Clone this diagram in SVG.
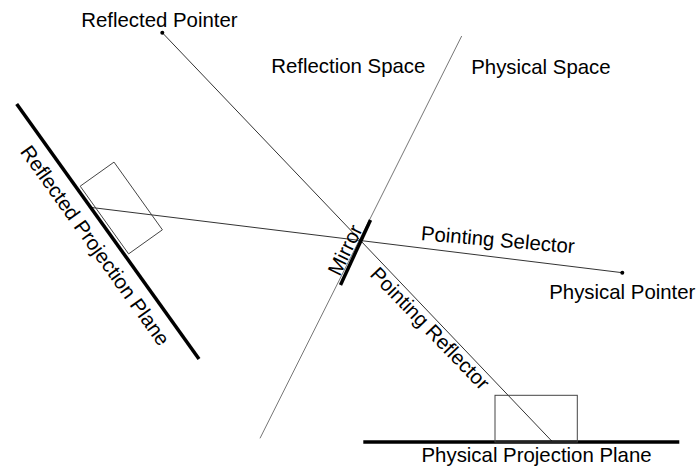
<svg xmlns="http://www.w3.org/2000/svg" width="696" height="468" viewBox="0 0 696 468">
<style>
  .lbl { font-family: "Liberation Sans", Arial, sans-serif; font-size: 20.4px; fill: #000; }
  .thin { stroke: #333; stroke-width: 1; fill: none; }
  .div { stroke: #666; stroke-width: 0.9; fill: none; }
  .thick { stroke: #000; stroke-width: 3.5; fill: none; }
  .rect { stroke: #444; stroke-width: 1; fill: none; }
  .dot { fill: #000; }
</style>
<rect width="696" height="468" fill="#fff"/>
<g id="connectors">
  <line class="div" x1="461.7" y1="36" x2="260" y2="438.3"/>
  <line class="thin" x1="162.3" y1="32.7" x2="551.7" y2="441"/>
  <line class="thin" x1="91.7" y1="207.5" x2="622.3" y2="272.7"/>
</g>
<g id="reflected-projection-plane">
  <line class="thick" x1="16.7" y1="104" x2="199" y2="359"/>
  <polygon class="rect" points="80.2,186.2 128.6,253.9 162.4,229.8 114,162.1"/>
  <text class="lbl" text-anchor="middle" transform="translate(89.5,249.5) rotate(54.4)">Reflected Projection Plane</text>
</g>
<g id="physical-projection-plane">
  <line class="thick" x1="363.3" y1="442" x2="679.3" y2="442"/>
  <rect class="rect" x="495" y="395.3" width="82.3" height="46.7"/>
  <text class="lbl" x="421.5" y="461.7">Physical Projection Plane</text>
</g>
<g id="mirror">
  <line class="thick" x1="370.5" y1="220" x2="340.5" y2="285"/>
  <text class="lbl" text-anchor="middle" transform="translate(351.3,253) rotate(-64)">Mirror</text>
</g>
<g id="reflected-pointer">
  <circle class="dot" cx="162.3" cy="32.7" r="2"/>
  <text class="lbl" x="81.2" y="27">Reflected Pointer</text>
</g>
<g id="physical-pointer">
  <circle class="dot" cx="622.3" cy="272.7" r="2"/>
  <text class="lbl" x="549.2" y="298.5">Physical Pointer</text>
</g>
<g id="pointing-selector">
  <text class="lbl" transform="translate(420.5,240) rotate(5)">Pointing Selector</text>
</g>
<g id="pointing-reflector">
  <text class="lbl" text-anchor="middle" transform="translate(425,333.2) rotate(46)">Pointing Reflector</text>
</g>
<g id="reflection-space">
  <text class="lbl" x="271.2" y="73">Reflection Space</text>
</g>
<g id="physical-space">
  <text class="lbl" x="471.2" y="74">Physical Space</text>
</g>
</svg>
